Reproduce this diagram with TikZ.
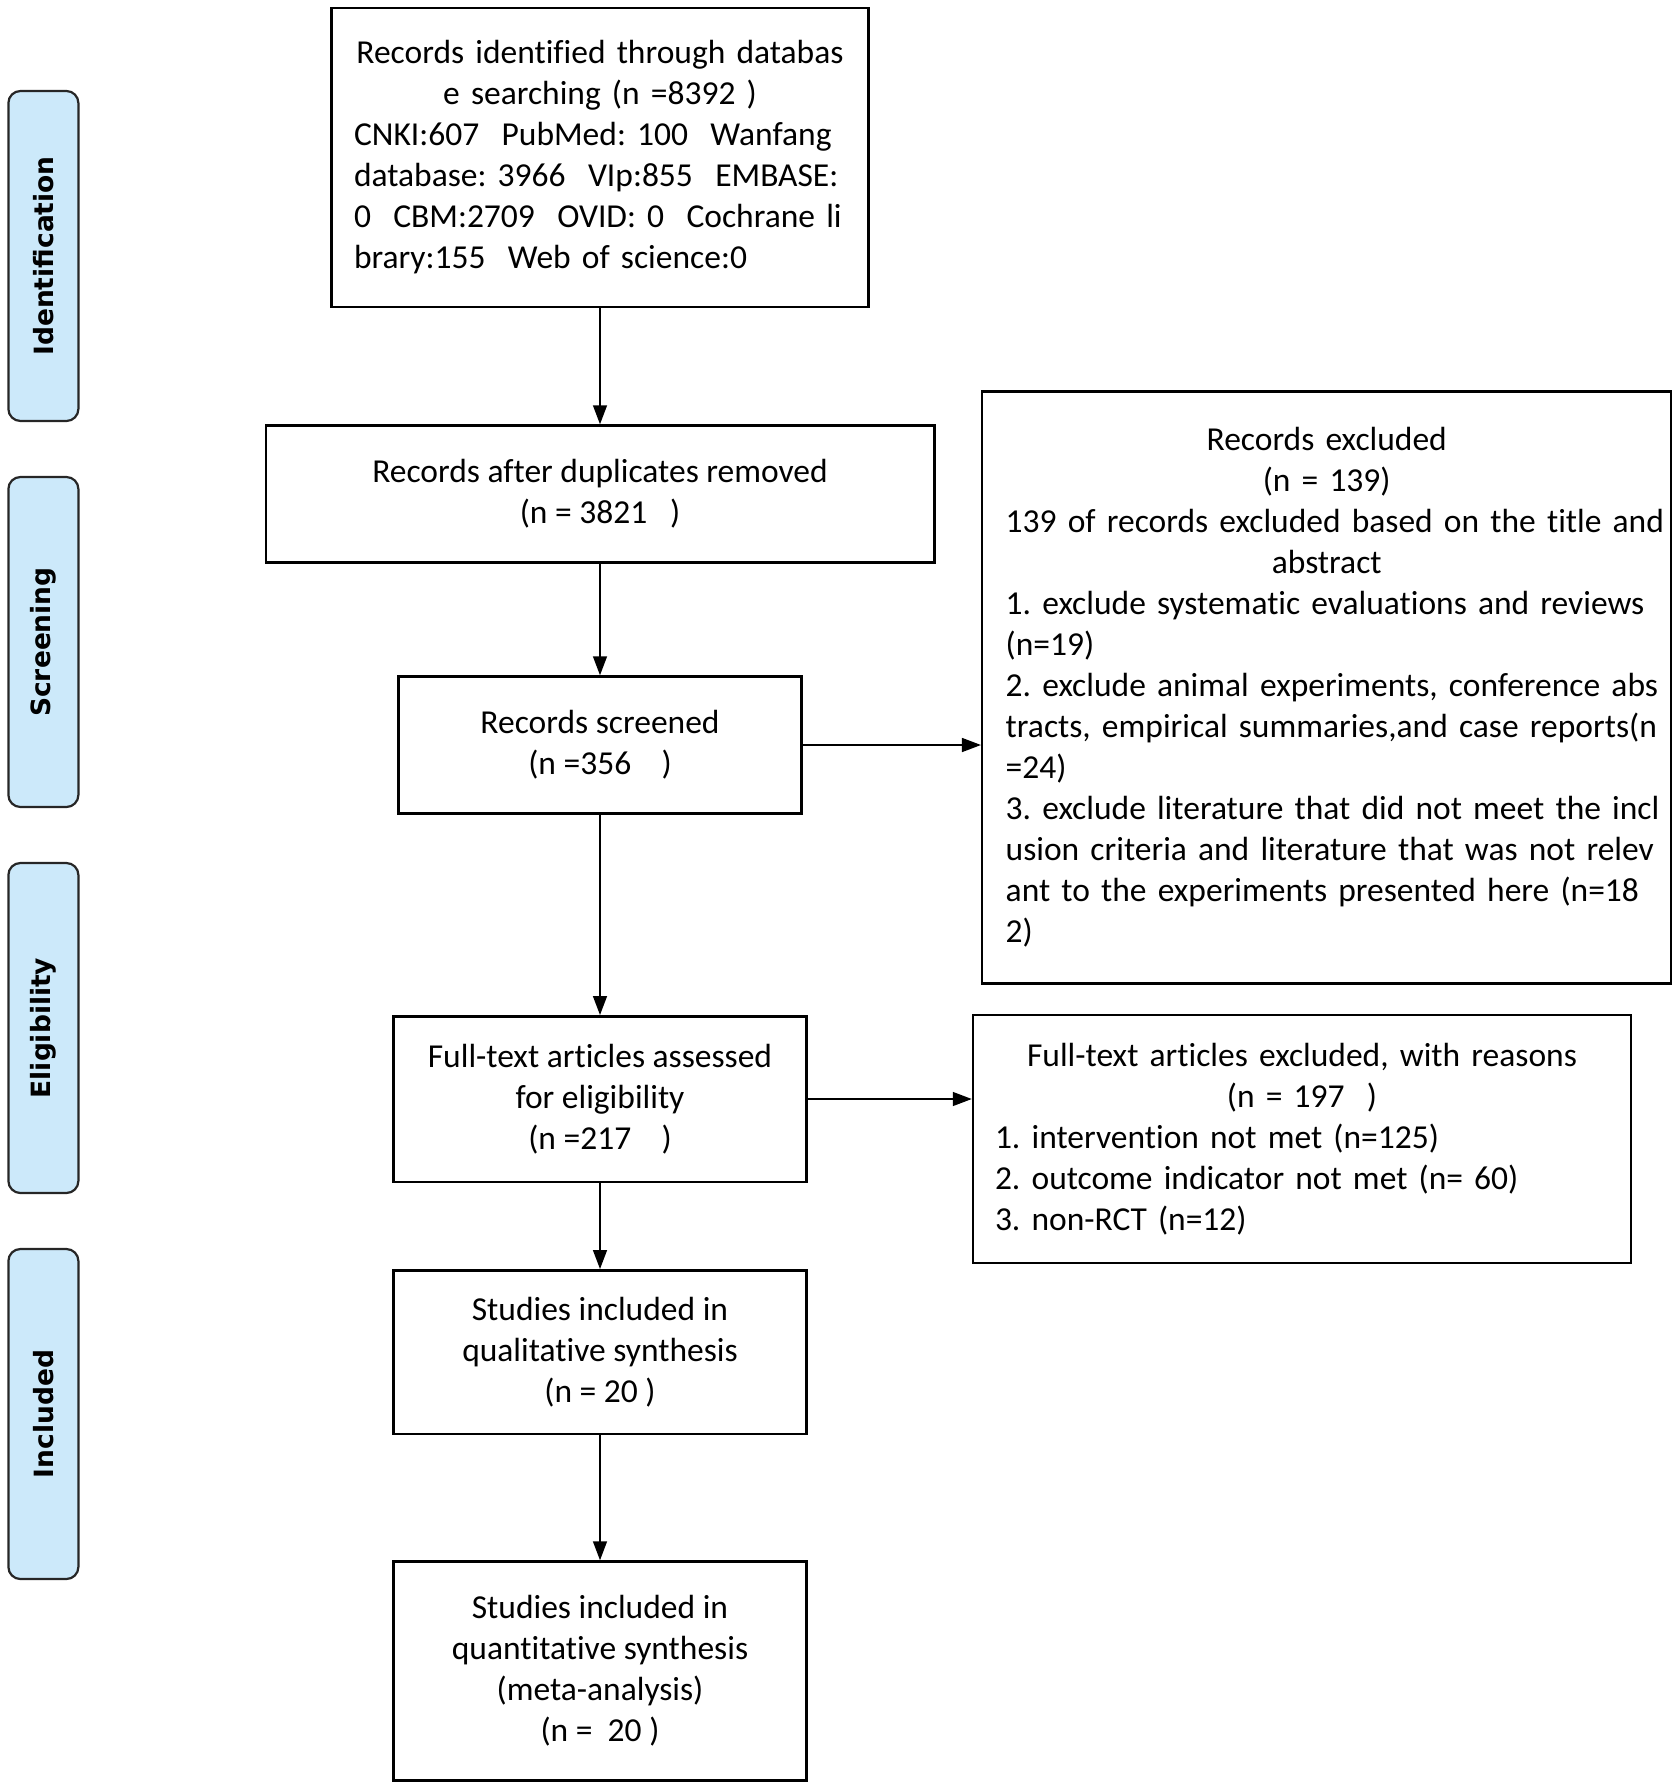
\documentclass[tikz,border=0pt]{standalone}
\usepackage{fontspec}
\setmainfont{Carlito}[Ligatures=CommonOff]
\newfontfamily\phasefont{DejaVu Sans}
\usetikzlibrary{arrows.meta,calc}
\definecolor{phasefill}{HTML}{CCE9FA}
\frenchspacing
\begin{document}
\begin{tikzpicture}[x=1pt,y=-1pt,
  box/.style={draw, line width=2.5pt, inner sep=0pt, align=center, font=\frenchspacing\fontsize{33.5}{41}\selectfont},
  phase/.style={draw=black!85, fill=phasefill, line width=2.2pt, rounded corners=12pt, minimum width=330pt, minimum height=70pt, rotate=90, font=\phasefont\bfseries\fontsize{26.5}{30}\selectfont, inner sep=0pt},
  arr/.style={line width=1.5pt, -{Triangle[length=19pt,width=14pt]}}]
\useasboundingbox (0,0) rectangle (1677,1787);

% phase labels
\node[phase] (p1) at (43.4,256) {Identification};
\node[phase] (p2) at (43.4,642) {Screening};
\node[phase] (p3) at (43.4,1028) {Eligibility};
\node[phase] (p4) at (43.4,1414) {Included};

% main column
\node[box, minimum width=537pt, minimum height=299pt, text width=492pt] (id) at (600,157.5) {%
Records identified through databas\\
e searching (n =8392 )\\
\makebox[\linewidth][s]{CNKI:607\ \ PubMed:\ 100\ \ Wanfang}\\
\makebox[\linewidth][s]{database:\ 3966\ \ VIp:855\ \ EMBASE:}\\
\makebox[\linewidth][s]{0\ \ CBM:2709\ \ OVID:\ 0\ \ Cochrane\ li}\\
\makebox[\linewidth][l]{brary:155\ \ Web of science:0}};

\node[box, minimum width=668.5pt, minimum height=137pt] (dup) at (600,494) {%
Records after duplicates removed\\
(n = 3821\ \ \ )};

\node[box, minimum width=402.7pt, minimum height=137pt] (scr) at (600,745) {%
Records screened\\
(n =356\ \ \ \ )};

\node[box, minimum width=413pt, minimum height=165.5pt] (full) at (600,1099) {%
Full-text articles assessed\\
for eligibility\\
(n =217\ \ \ \ )};

\node[box, minimum width=413pt, minimum height=163.5pt] (qual) at (600,1352) {%
Studies included in\\
qualitative synthesis\\
(n = 20 )};

\node[box, minimum width=413pt, minimum height=219pt] (quant) at (600,1671) {%
Studies included in\\
quantitative synthesis\\
(meta-analysis)\\
(n =\ \ 20 )};

% right column
\node[box, minimum width=689pt, minimum height=592pt, text width=642pt] (exc) at (1326.7,687.3) {%
Records excluded\\
(n = 139)\\
\makebox[\linewidth][s]{139 of records excluded based on the title and}\\
abstract\\
\makebox[\linewidth][s]{1. exclude systematic evaluations and reviews}\\
\makebox[\linewidth][l]{(n=19)}\\
\makebox[\linewidth][s]{2. exclude animal experiments, conference abs}\\
\makebox[\linewidth][s]{tracts, empirical summaries,and case reports(n}\\
\makebox[\linewidth][l]{=24)}\\
\makebox[\linewidth][s]{3. exclude literature that did not meet the incl}\\
\makebox[\linewidth][s]{usion criteria and literature that was not relev}\\
\makebox[\linewidth][s]{ant to the experiments presented here (n=18}\\
\makebox[\linewidth][l]{2)}};

\node[box, minimum width=658pt, minimum height=247.6pt, text width=614pt] (ftx) at (1302,1139) {%
Full-text articles excluded, with reasons\\
(n = 197\ \ )\\
\makebox[\linewidth][l]{1. intervention not met (n=125)}\\
\makebox[\linewidth][l]{2. outcome indicator not met (n= 60)}\\
\makebox[\linewidth][l]{3. non-RCT (n=12)}};

% connectors
\draw[arr] (id.south) -- (dup.north);
\draw[arr] (dup.south) -- (scr.north);
\draw[arr] (scr.south) -- (full.north);
\draw[arr] (full.south) -- (qual.north);
\draw[arr] (qual.south) -- (quant.north);
\draw[arr] (scr.east) -- (scr.east -| exc.west);
\draw[arr] (full.east) -- (full.east -| ftx.west);
\end{tikzpicture}
\end{document}
